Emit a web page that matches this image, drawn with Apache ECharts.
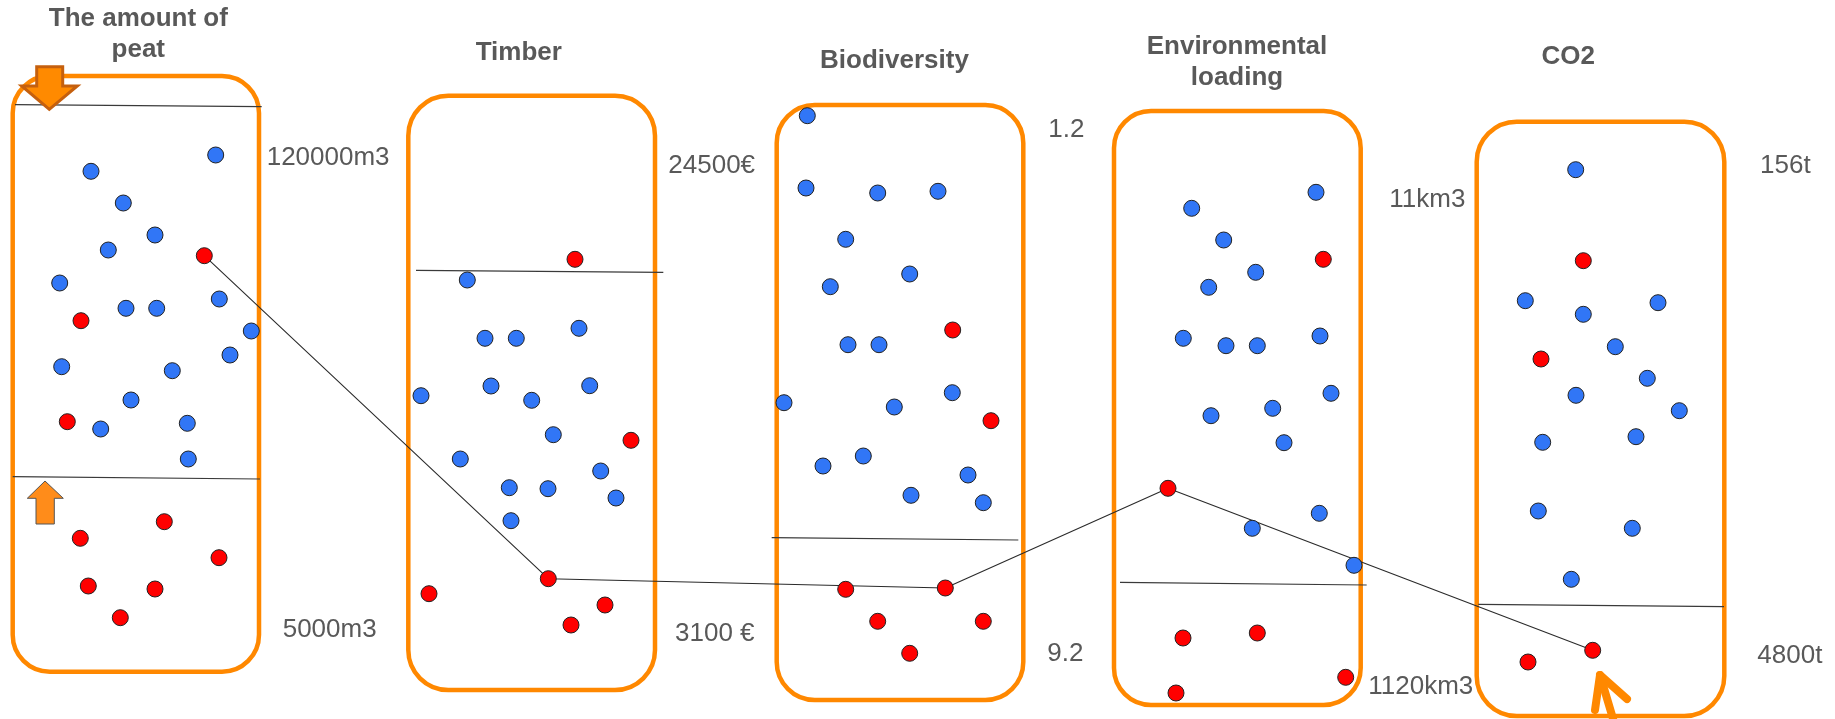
<!DOCTYPE html>
<html><head><meta charset="utf-8">
<script src="https://cdn.jsdelivr.net/npm/echarts@6/dist/echarts.min.js"></script>
<style>html,body{margin:0;padding:0;background:#fff}#c{width:1835px;height:719px}</style>
</head><body><div id="c"></div>
<script>
// ---------- data ----------
const titles = ['The amount of\npeat', 'Timber', 'Biodiversity', 'Environmental\nloading', 'CO2'];
const topLabels = ['120000m3', '24500€', '1.2', '11km3', '156t'];
const bottomLabels = ['5000m3', '3100 €', '9.2', '1120km3', '4800t'];

const peatBlue = [[215.7,155],[91,171.3],[123.3,203],[155,235],[108.3,250],[59.7,283],[126,308.3],[156.7,308.3],[219.3,299],[251.3,331],[230,355],[61.7,366.7],[172.3,370.7],[131,400],[100.7,429],[187.3,423.3],[188.3,459]];
const peatRed = [[204.3,255.7],[81,320.7],[67.3,421.7],[164.3,521.7],[80.3,538.3],[219,557.7],[88.3,586],[155,589],[120.3,617.7]];
const timberBlue = [[467.3,280],[485,338.3],[516.3,338.3],[579,328.3],[421,395.7],[491,386],[531.7,400.3],[589.7,385.7],[553.3,434.7],[460.3,459],[600.7,471],[509.3,487.7],[548,488.7],[616,498],[511,520.7]];
const timberRed = [[575,259.3],[631,440.3],[548.3,578.7],[429,593.7],[605,605],[571,625]];
const bioBlue = [[807.3,115.7],[806,188],[877.7,193],[938,191.3],[845.7,239.3],[909.7,274],[830.3,286.7],[848,344.7],[879,344.7],[784,402.7],[894.3,407],[952.3,392.7],[823,466],[863.3,456],[968,475],[911,495.3],[983.3,502.7]];
const bioRed = [[952.7,330],[991,420.7],[845.7,589.3],[945.3,588],[877.7,621.3],[983.3,621.3],[909.7,653.3]];
const envBlue = [[1316,192.3],[1191.7,208.3],[1223.7,240],[1255.7,272.3],[1208.7,287.3],[1183.3,338.3],[1226,345.7],[1257.3,345.7],[1320,336],[1211,415.7],[1272.7,408.3],[1331,393.3],[1284,442.7],[1319.3,513.3],[1252.3,528.3],[1354,565.3]];
const envRed = [[1323.3,259.3],[1168,488.3],[1183,638],[1257.3,633],[1345.7,677.3],[1176,693]];
const co2Blue = [[1575.7,169.7],[1525.3,300.7],[1583.3,314.3],[1658,302.7],[1615.3,346.7],[1647.3,378.3],[1576,395.3],[1679.3,410.7],[1542.7,442.3],[1636,436.7],[1538.3,511],[1632.3,528.3],[1571.3,579.3]];
const co2Red = [[1583.3,260.7],[1541,359],[1592.7,650.3],[1528,662]];

// selected solution path through the red points
const pathPoints = [peatRed[0], timberRed[2], bioRed[3], envRed[1], co2Red[2]];

// ---------- layout ----------
const boxes = [[12.7,76,259,671.7,37],[408.3,95.7,655,690,40],[776.7,105,1023.3,700,38],[1114,111,1360.7,705,37],[1476.7,121.7,1724.3,716,40]];
const thresholds = [[15,104.7,261.7,106.7],[12.7,476.7,260,479],[416,270.3,663.3,272.3],[771.7,537.7,1018.3,540],[1120,582.3,1366.7,585],[1478.3,604.3,1724,606.7]];
const titlePos = [[138.3,34.4],[518.8,53.3],[894.5,60.8],[1237,62.8],[1568.3,56.8]];
const topLabelPos = [[266.7,157.5],[668.3,165.8],[1048.3,129.5],[1389.3,200.2],[1760,165.8]];
const bottomLabelPos = [[282.7,629.5],[675,633.7],[1047.3,653.8],[1368.3,686.7],[1757.3,656.2]];
const downArrow = [[36.7,66.7],[62.7,66.7],[62.7,86],[77.3,86],[49.3,109.3],[21.7,86],[36.7,86]];
const upArrow = [[45,481],[63.3,498.3],[54.3,498.3],[54.3,524],[36,524],[36,498.3],[27.3,498.3]];
const cornerArrowA = [[1595,710],[1600,675],[1627,699]];
const cornerArrowB = [[1600,675],[1614,722]];

const BLUE = '#3176F6', RED = '#FF0000', ORANGE = '#FF8800', TXT = '#595959';

const chart = echarts.init(document.getElementById('c'));
const pts = (api, arr) => arr.map(p => api.coord(p));

const texts = [];
titles.forEach((t, i) => texts.push({t, p: titlePos[i], bold: true, align: 'center'}));
topLabels.forEach((t, i) => texts.push({t, p: topLabelPos[i], bold: false, align: 'left'}));
bottomLabels.forEach((t, i) => texts.push({t, p: bottomLabelPos[i], bold: false, align: 'left'}));

chart.setOption({
  animation: false,
  grid: {left: 0, right: 0, top: 0, bottom: 0},
  xAxis: {type: 'value', min: 0, max: 1835, show: false},
  yAxis: {type: 'value', min: 0, max: 719, inverse: true, show: false},
  series: [
    {
      type: 'custom', clip: false, z: 1,
      data: boxes.map(b => b.slice()),
      renderItem: (params, api) => {
        const p0 = api.coord([api.value(0), api.value(1)]);
        const p1 = api.coord([api.value(2), api.value(3)]);
        return {type: 'rect', shape: {x: p0[0], y: p0[1], width: p1[0]-p0[0], height: p1[1]-p0[1], r: api.value(4)},
          style: {fill: '#fff', stroke: ORANGE, lineWidth: 4.5}};
      }
    },
    {
      type: 'custom', clip: false, z: 2,
      data: thresholds.map(t => t.slice()),
      renderItem: (params, api) => {
        const a = api.coord([api.value(0), api.value(1)]);
        const b = api.coord([api.value(2), api.value(3)]);
        return {type: 'line', shape: {x1: a[0], y1: a[1], x2: b[0], y2: b[1]}, style: {stroke: '#3a3a3a', lineWidth: 1.2}};
      }
    },
    {
      type: 'line', z: 3, data: pathPoints, symbol: 'none',
      lineStyle: {color: '#2a2a2a', width: 1.1}
    },
    {
      type: 'scatter', z: 4, symbolSize: 16,
      data: [].concat(peatBlue, timberBlue, bioBlue, envBlue, co2Blue),
      itemStyle: {color: BLUE, borderColor: '#222', borderWidth: 1, opacity: 1}
    },
    {
      type: 'scatter', z: 4, symbolSize: 16,
      data: [].concat(peatRed, timberRed, bioRed, envRed, co2Red),
      itemStyle: {color: RED, borderColor: '#222', borderWidth: 1, opacity: 1}
    },
    {
      type: 'custom', clip: false, z: 5,
      data: [[0, 0]],
      renderItem: (params, api) => ({
        type: 'group',
        children: [
          {type: 'polygon', shape: {points: pts(api, downArrow)}, style: {fill: '#FF8A00', stroke: '#C5600E', lineWidth: 3}},
          {type: 'polygon', shape: {points: pts(api, upArrow)}, style: {fill: '#FF8C1A', stroke: '#555', lineWidth: 1}},
          {type: 'polyline', shape: {points: pts(api, cornerArrowA)}, style: {fill: null, stroke: ORANGE, lineWidth: 8, lineCap: 'round', lineJoin: 'round'}},
          {type: 'polyline', shape: {points: pts(api, cornerArrowB)}, style: {fill: null, stroke: ORANGE, lineWidth: 8, lineCap: 'round', lineJoin: 'round'}}
        ]
      })
    },
    {
      type: 'custom', clip: false, z: 6,
      data: texts.map((d, i) => [d.p[0], d.p[1], i]),
      renderItem: (params, api) => {
        const d = texts[params.dataIndex];
        const p = api.coord([api.value(0), api.value(1)]);
        return {type: 'text', x: p[0], y: p[1], style: {
          text: d.t, fill: TXT, align: d.align, verticalAlign: 'middle',
          font: (d.bold ? 'bold ' : '') + '26px "Liberation Sans", Arial, sans-serif', lineHeight: 31
        }};
      }
    }
  ]
});
</script></body></html>
